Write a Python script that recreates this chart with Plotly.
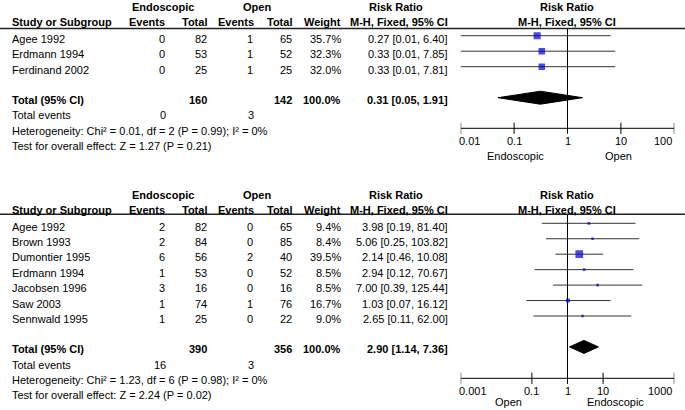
import math
import plotly.graph_objects as go

# ---------------- data: top panel ----------------
top_studies = ["Agee 1992", "Erdmann 1994", "Ferdinand 2002"]
top_endo_events = [0, 0, 0]
top_endo_total = [82, 53, 25]
top_open_events = [1, 1, 1]
top_open_total = [65, 52, 25]
top_weight = [35.7, 32.3, 32.0]
top_rr = [0.27, 0.33, 0.33]
top_lo = [0.01, 0.01, 0.01]
top_hi = [6.40, 7.85, 7.81]
top_total_rr = [0.31, 0.05, 1.91]
top_total_n = [160, 142]
top_total_events = [0, 3]
top_het = "Heterogeneity: Chi² = 0.01, df = 2 (P = 0.99); I² = 0%"
top_test = "Test for overall effect: Z = 1.27 (P = 0.21)"
top_tickvals = [0.01, 0.1, 1, 10, 100]
top_ticktext = ["0.01", "0.1", "1", "10", "100"]
top_favours = ["Endoscopic", "Open"]

# ---------------- data: bottom panel ----------------
bot_studies = ["Agee 1992", "Brown 1993", "Dumontier 1995", "Erdmann 1994",
               "Jacobsen 1996", "Saw 2003", "Sennwald 1995"]
bot_endo_events = [2, 2, 6, 1, 3, 1, 1]
bot_endo_total = [82, 84, 56, 53, 16, 74, 25]
bot_open_events = [0, 0, 2, 0, 0, 1, 0]
bot_open_total = [65, 85, 40, 52, 16, 76, 22]
bot_weight = [9.4, 8.4, 39.5, 8.5, 8.5, 16.7, 9.0]
bot_rr = [3.98, 5.06, 2.14, 2.94, 7.00, 1.03, 2.65]
bot_lo = [0.19, 0.25, 0.46, 0.12, 0.39, 0.07, 0.11]
bot_hi = [81.40, 103.82, 10.08, 70.67, 125.44, 16.12, 62.00]
bot_total_rr = [2.90, 1.14, 7.36]
bot_total_n = [390, 356]
bot_total_events = [16, 3]
bot_het = "Heterogeneity: Chi² = 1.23, df = 6 (P = 0.98); I² = 0%"
bot_test = "Test for overall effect: Z = 2.24 (P = 0.02)"
bot_tickvals = [0.001, 0.1, 1, 10, 1000]
bot_ticktext = ["0.001", "0.1", "1", "10", "1000"]
bot_favours = ["Open", "Endoscopic"]

# ---------------- layout constants ----------------
W, H = 685, 410
FONT = "Liberation Sans, Arial, sans-serif"
FS = 11
FX0, FX1 = 460.7, 674.3           # forest area in px
COL = dict(study=10, ee=167, et=209, oe=255, ot=294, w=343, rr=450)
TXT_OFF = 3.2                     # text centre below the row line

fig = go.Figure()


def px(x):
    return x / W


def ann(x, y, text, anchor="right", bold=False, xref="paper", xshift=0):
    fig.add_annotation(x=px(x) if xref == "paper" else x, xref=xref, y=y, yref="y",
                       text=f"<b>{text}</b>" if bold else text,
                       showarrow=False, xanchor=anchor, yanchor="middle",
                       xshift=xshift,
                       font=dict(family=FONT, size=FS, color="black"))


def panel(xa, studies, ee, et, oe, ot, wt, rr, lo, hi, tot, totn, totev,
          het, test, head_y, line_y, row0, step, axis_y, tickvals, ticktext):
    n = len(studies)
    # headers
    ann(163, head_y, "Endoscopic", "center", True)
    ann(257, head_y, "Open", "center", True)
    ann(396, head_y, "Risk Ratio", "center", True)
    ann(567, head_y, "Risk Ratio", "center", True)
    h2 = head_y + 15
    ann(COL["study"], h2, "Study or Subgroup", "left", True)
    ann(COL["ee"], h2, "Events", "right", True)
    ann(COL["et"], h2, "Total", "right", True)
    ann(COL["oe"] + 1, h2, "Events", "right", True)
    ann(COL["ot"], h2, "Total", "right", True)
    ann(COL["w"], h2, "Weight", "right", True)
    ann(COL["rr"], h2, "M-H, Fixed, 95% CI", "right", True)
    ann(567, h2, "M-H, Fixed, 95% CI", "center", True)
    fig.add_shape(type="line", xref="paper", yref="y", x0=0, x1=1,
                  y0=line_y, y1=line_y, line=dict(color="#222", width=1.6))

    ys = [row0 + step * i for i in range(n)]
    for i in range(n):
        ty = ys[i] + TXT_OFF
        ann(COL["study"], ty, studies[i], "left")
        ann(COL["ee"], ty, str(ee[i]))
        ann(COL["et"], ty, str(et[i]))
        ann(COL["oe"], ty, str(oe[i]))
        ann(COL["ot"], ty, str(ot[i]))
        ann(COL["w"], ty, f"{wt[i]:.1f}%")
        ann(COL["rr"], ty, f"{rr[i]:.2f} [{lo[i]:.2f}, {hi[i]:.2f}]")

    ty_tot = row0 + step * (n + 1)
    t0 = ty_tot + TXT_OFF - 1
    ann(COL["study"], t0, "Total (95% CI)", "left", True)
    ann(COL["et"], t0, str(totn[0]), "right", True)
    ann(COL["ot"], t0, str(totn[1]), "right", True)
    ann(COL["w"], t0, "100.0%", "right", True)
    ann(COL["rr"], t0, f"{tot[0]:.2f} [{tot[1]:.2f}, {tot[2]:.2f}]", "right", True)
    ann(COL["study"], t0 + step, "Total events", "left")
    ann(COL["ee"] + 1, t0 + step, str(totev[0]))
    ann(COL["oe"] + 1, t0 + step, str(totev[1]))
    ann(COL["study"], t0 + 2 * step, het, "left")
    ann(COL["study"], t0 + 3 * step, test, "left")

    # CI lines
    cx, cy = [], []
    for i in range(n):
        cx += [lo[i], hi[i], None]
        cy += [ys[i], ys[i], None]
    fig.add_trace(go.Scatter(x=cx, y=cy, mode="lines", xaxis=xa, yaxis="y",
                             line=dict(color="#333", width=1), hoverinfo="skip",
                             showlegend=False))
    # null line
    fig.add_trace(go.Scatter(x=[1, 1], y=[line_y, axis_y], mode="lines",
                             xaxis=xa, yaxis="y", line=dict(color="black", width=1),
                             hoverinfo="skip", showlegend=False))
    # axis line and crossing tick marks
    fig.add_trace(go.Scatter(x=[tickvals[0], tickvals[-1]], y=[axis_y, axis_y],
                             mode="lines", xaxis=xa, yaxis="y",
                             line=dict(color="black", width=1),
                             hoverinfo="skip", showlegend=False))
    fig.add_trace(go.Scatter(x=tickvals, y=[axis_y] * len(tickvals), mode="markers",
                             xaxis=xa, yaxis="y",
                             marker=dict(symbol="line-ns", size=8,
                                         line=dict(color="black", width=1)),
                             hoverinfo="skip", showlegend=False))
    # tick labels: first left-aligned, last right-aligned, others centred
    for k, (v, t) in enumerate(zip(tickvals, ticktext)):
        if k == 0:
            anchor, sh = "left", -4
        elif k == len(tickvals) - 1:
            anchor, sh = "right", 0
        else:
            anchor, sh = "center", 0
        ann(math.log10(v), axis_y + 12.3, t, anchor, xref=xa, xshift=sh)
    # squares
    fig.add_trace(go.Scatter(x=rr, y=ys, mode="markers", xaxis=xa, yaxis="y",
                             marker=dict(symbol="square", color="#0000cc",
                                         size=[1.2 + 0.165 * w for w in wt],
                                         line=dict(width=0)),
                             showlegend=False))
    # diamond
    hh = 6.5
    fig.add_trace(go.Scatter(x=[tot[1], tot[0], tot[2], tot[0], tot[1]],
                             y=[ty_tot, ty_tot - hh, ty_tot, ty_tot + hh, ty_tot],
                             mode="lines", fill="toself", fillcolor="black",
                             line=dict(color="black", width=1), xaxis=xa, yaxis="y",
                             showlegend=False))


# top panel
panel("x", top_studies, top_endo_events, top_endo_total, top_open_events,
      top_open_total, top_weight, top_rr, top_lo, top_hi, top_total_rr,
      top_total_n, top_total_events, top_het, top_test,
      head_y=7, line_y=28.5, row0=35.7, step=15.5, axis_y=128.3,
      tickvals=top_tickvals, ticktext=top_ticktext)
# bottom panel
panel("x2", bot_studies, bot_endo_events, bot_endo_total, bot_open_events,
      bot_open_total, bot_weight, bot_rr, bot_lo, bot_hi, bot_total_rr,
      bot_total_n, bot_total_events, bot_het, bot_test,
      head_y=195, line_y=214.3, row0=223.3, step=15.45, axis_y=378.3,
      tickvals=bot_tickvals, ticktext=bot_ticktext)

# favours labels
ann(515, 155.5, top_favours[0], "center")
ann(618, 155.5, top_favours[1], "center")
ann(508, 401.5, bot_favours[0], "center")
ann(615, 401.5, bot_favours[1], "center")

dom = [FX0 / W, FX1 / W]


def logaxis(rng, ypos):
    return dict(type="log", domain=dom, range=rng, anchor="free",
                position=1 - ypos / H, showticklabels=False,
                showgrid=False, zeroline=False, showline=False, ticks="",
                fixedrange=True, automargin=False)


fig.update_layout(
    template="none",
    width=W, height=H, margin=dict(l=0, r=0, t=0, b=0, pad=0, autoexpand=False),
    paper_bgcolor="white", plot_bgcolor="rgba(0,0,0,0)", showlegend=False,
    xaxis=logaxis([-2, 2], 128.3),
    xaxis2=logaxis([-3, 3], 378.3),
    yaxis=dict(range=[H, 0], domain=[0, 1], visible=False, fixedrange=True,
               anchor="free", position=0, automargin=False),
)

fig.write_html("out.html", config={"displayModeBar": False},
               post_script="document.body.style.margin='0px';")
